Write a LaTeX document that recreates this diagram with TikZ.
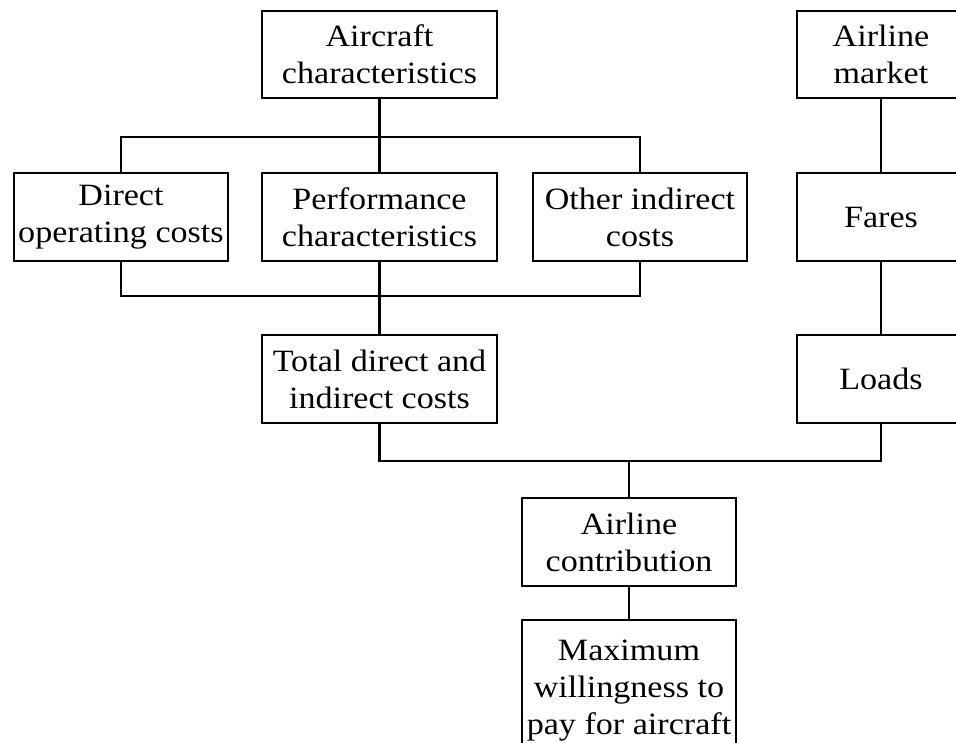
\documentclass[tikz,border=0pt]{standalone}
\usepackage{fontspec}
\setmainfont{Liberation Serif}[FakeStretch=1.1]
\begin{document}
\begin{tikzpicture}[x=1pt,y=-1pt,
  box/.style={draw,line width=2.2pt,align=center,inner sep=0pt,
    font=\fontsize{31}{37}\selectfont},
  conn/.style={line width=2.2pt}]
\useasboundingbox (0,0) rectangle (956,742);
\clip (0,0) rectangle (956,742);
% nodes
\node[box,minimum width=235,minimum height=87] (ac) at (379.5,54.5) {Aircraft\\characteristics};
\node[box,minimum width=168,minimum height=87] (am) at (881,54.5) {Airline\\market};
\node[box,minimum width=214,minimum height=88] (doc) at (121,217) {Direct\\operating costs};
\node[box,minimum width=235,minimum height=88] (pc) at (379.5,217) {Performance\\characteristics};
\node[box,minimum width=214,minimum height=88] (oic) at (640,217) {Other indirect\\costs};
\node[box,minimum width=168,minimum height=88] (fares) at (881,217) {Fares};
\node[box,minimum width=235,minimum height=88] (tot) at (379.5,379) {Total direct and\\indirect costs};
\node[box,minimum width=168,minimum height=88] (loads) at (881,379) {Loads};
\node[box,minimum width=214,minimum height=88] (contr) at (629,542) {Airline\\contribution};
\node[box,minimum width=214,minimum height=142] (max) at (629,691) {Maximum\\willingness to\\pay for aircraft};
% junction coordinates
\coordinate (topbus) at (379.5,137);
\coordinate (lowbus) at (379.5,296);
\coordinate (cbus) at (629,461);
% connectors
\draw[conn] (ac.south) -- (pc.north);
\draw[conn] (doc.north) |- (topbus) -| (oic.north);
\draw[conn] (doc.south) |- (lowbus) -| (oic.south);
\draw[conn] (pc.south) -- (tot.north);
\draw[conn] (am.south) -- (fares.north);
\draw[conn] (fares.south) -- (loads.north);
\draw[conn] (tot.south) |- (cbus) -| (loads.south);
\draw[conn] (cbus) -- (contr.north);
\draw[conn] (contr.south) -- (max.north);
\end{tikzpicture}
\end{document}
